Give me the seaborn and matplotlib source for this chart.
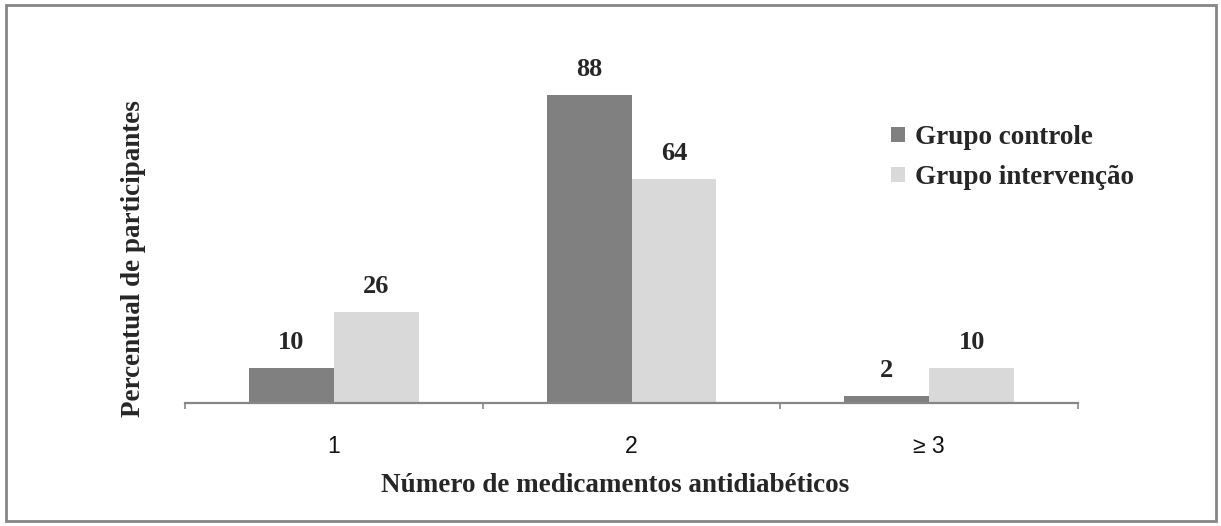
import matplotlib
matplotlib.use("Agg")
import matplotlib.pyplot as plt
import matplotlib.patches as mpatches
import seaborn as sns
import pandas as pd

categories = ["1", "2", "\u2265 3"]
controle = [10, 88, 2]
intervencao = [26, 64, 10]
groups = ["Grupo controle", "Grupo interven\u00e7\u00e3o"]

df = pd.DataFrame({
    "categoria": categories * 2,
    "valor": controle + intervencao,
    "grupo": [groups[0]] * 3 + [groups[1]] * 3,
})

sns.set_theme(style="white")
plt.rcParams["font.family"] = ["Liberation Serif", "DejaVu Serif"]

W, H = 1221, 526
fig = plt.figure(figsize=(W / 100, H / 100), dpi=100)
ax = fig.add_axes([185 / W, 1 - 403 / H, (1078 - 185) / W, 350 / H])

colors = ["#808080", "#d9d9d9"]
sns.barplot(data=df, x="categoria", y="valor", hue="grupo", order=categories,
            hue_order=groups, palette=colors, width=0.571, saturation=1,
            edgecolor="none", linewidth=0, ax=ax, legend=False)

ax.set_xlim(-0.5, 2.5)
ax.set_ylim(0, 100)

for container in ax.containers:
    ax.bar_label(container, fmt="%d", padding=10, fontsize=19,
                 fontweight="bold", family="Liberation Serif")

for s in ["top", "left", "right"]:
    ax.spines[s].set_visible(False)
ax.spines["bottom"].set_color("#868686")
ax.spines["bottom"].set_linewidth(1.6)

ax.set_yticks([])
ax.set_xticks(range(3))
ax.set_xticklabels(categories, fontsize=16.5, family="Liberation Sans",
                   color="#111111")
ax.tick_params(axis="x", which="major", length=0, pad=23, bottom=True)
ax.set_xticks([-0.5, 0.5, 1.5, 2.5], minor=True)
ax.tick_params(axis="x", which="minor", length=4.5, width=1.2, color="#868686",
               direction="out", bottom=True)

ax.set_xlabel("N\u00famero de medicamentos antidiab\u00e9ticos", fontsize=19.5,
              fontweight="bold")
ax.xaxis.label.set_verticalalignment("center")
ax.xaxis.set_label_coords((615 - 185) / (1078 - 185), -(485 - 403) / 350)
ax.set_ylabel("Percentual de participantes", fontsize=19.5, fontweight="bold")
ax.yaxis.label.set_verticalalignment("center")
ax.yaxis.set_label_coords(-(185 - 134) / (1078 - 185), (403 - 259) / 350)

handles = [mpatches.Patch(facecolor=c, edgecolor="none") for c in colors]
fig.legend(handles, groups, loc="upper left",
           bbox_to_anchor=(891 / W, 1 - 125 / H), frameon=False,
           prop={"family": "Liberation Serif", "weight": "bold", "size": 19.5},
           handlelength=0.5, handleheight=0.5, handletextpad=0.4,
           labelspacing=0.55, borderaxespad=0, borderpad=0)

frame = mpatches.Rectangle((6 / W, 5 / H), (1216 - 6) / W, (521 - 5) / H,
                           transform=fig.transFigure, fill=False,
                           edgecolor="#868686", linewidth=2)
fig.patches.append(frame)

fig.savefig("out.png", dpi=100)
